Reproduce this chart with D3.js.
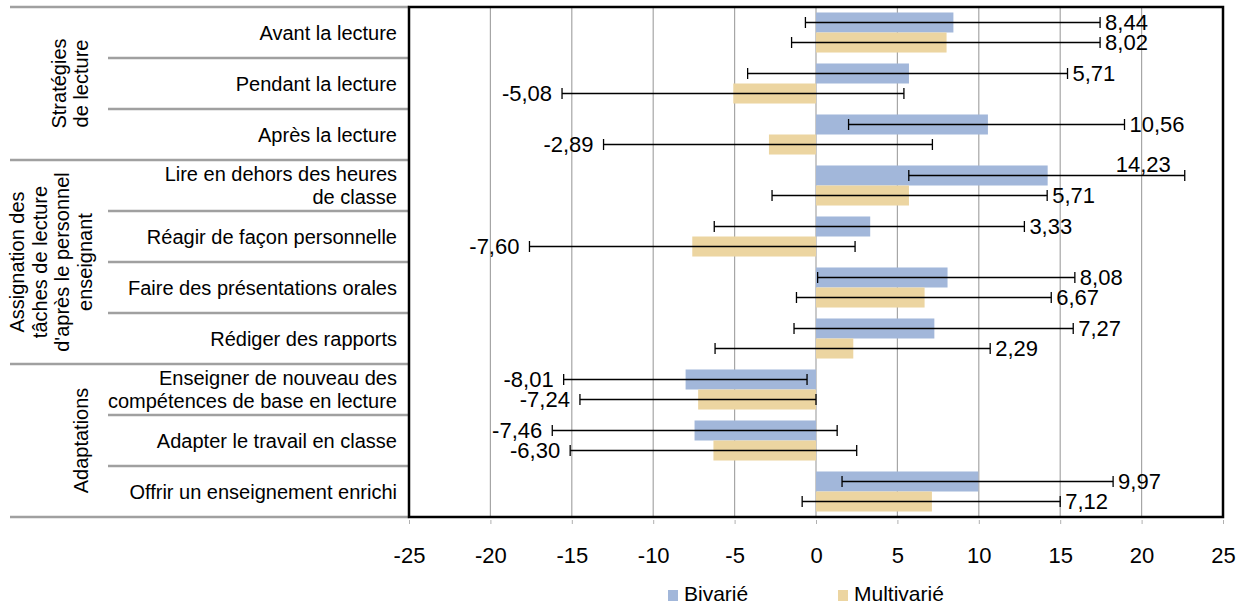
<!DOCTYPE html>
<html>
<head>
<meta charset="utf-8">
<script src="https://cdn.jsdelivr.net/npm/d3@7"></script>
<style>
  body { margin: 0; background: #fff; }
  svg { display: block; font-family: "Liberation Sans", Arial, sans-serif; }
</style>
</head>
<body>
<svg id="chart" width="1244" height="607"></svg>
<script>
// Categories (top to bottom), with line breaks as in the original
const categories = [
  "Avant la lecture",
  "Pendant la lecture",
  "Après la lecture",
  "Lire en dehors des heures\nde classe",
  "Réagir de façon personnelle",
  "Faire des présentations orales",
  "Rédiger des rapports",
  "Enseigner de nouveau des\ncompétences de base en lecture",
  "Adapter le travail en classe",
  "Offrir un enseignement enrichi"
];

// Groups of categories
const groupLabels = [
  ["Stratégies", "de lecture"],
  ["Assignation des", "tâches de lecture", "d'après le personnel", "enseignant"],
  ["Adaptations"]
];
const groupSizes = [3, 4, 3];

// Series values
const seriesNames = ["Bivarié", "Multivarié"];
const bivarie = [8.44, 5.71, 10.56, 14.23, 3.33, 8.08, 7.27, -8.01, -7.46, 9.97];
const multivarie = [8.02, -5.08, -2.89, 5.71, -7.60, 6.67, 2.29, -7.24, -6.30, 7.12];

// Error bar bounds (confidence intervals)
const bivLow = [-0.65, -4.2, 2.0, 5.7, -6.25, 0.1, -1.35, -15.5, -16.2, 1.6];
const bivHigh = [17.45, 15.45, 18.95, 22.65, 12.8, 15.9, 15.8, -0.55, 1.3, 18.25];
const multLow = [-1.5, -15.6, -13.05, -2.7, -17.6, -1.2, -6.2, -14.5, -15.1, -0.85];
const multHigh = [17.45, 5.4, 7.15, 14.2, 2.4, 14.45, 10.7, 0, 2.5, 15.0];

// Axis ticks
const xTickValues = [-25, -20, -15, -10, -5, 0, 5, 10, 15, 20, 25];

const colors = ["#a2b7da", "#ecd5a1"];

// Build rows from the arrays
const rows = categories.map((c, i) => ({
  category: c,
  values: [
    { series: 0, value: bivarie[i], low: bivLow[i], high: bivHigh[i] },
    { series: 1, value: multivarie[i], low: multLow[i], high: multHigh[i] }
  ]
}));

const locale = d3.formatLocale({ decimal: ",", thousands: " ", grouping: [3], currency: ["", " €"], minus: "-" });
const fmtVal = locale.format(".2f");
const fmtTick = locale.format("d");

const svg = d3.select("#chart");

// Layout
const plot = { left: 409, right: 1223, top: 7, bottom: 517 };
const catLabelX = 397;
const groupLineLeft = 10;
const innerLineLeft = 108;
const groupLabelX = [70, 51, 81];

const x = d3.scaleLinear().domain([-25, 25]).range([plot.left, plot.right]);
const y = d3.scaleBand()
  .domain(d3.range(categories.length))
  .range([plot.top, plot.bottom])
  .paddingInner(0.215)
  .paddingOuter(0.1075);
const ySeries = d3.scaleBand().domain([0, 1]).range([0, y.bandwidth()]);
const rowStep = y.step();
const rowTop = i => plot.top + i * rowStep;

// Vertical gridlines
svg.append("g")
  .selectAll("line")
  .data(xTickValues)
  .join("line")
  .attr("x1", d => x(d)).attr("x2", d => x(d))
  .attr("y1", plot.top).attr("y2", plot.bottom)
  .attr("stroke", "#a6a6a6")
  .attr("stroke-width", 1.2);

// Left side row separators
const groupStarts = [0];
groupSizes.forEach((s, i) => groupStarts.push(groupStarts[i] + s));
svg.append("g")
  .selectAll("line")
  .data(d3.range(categories.length + 1))
  .join("line")
  .attr("x1", d => groupStarts.includes(d) ? groupLineLeft : innerLineLeft)
  .attr("x2", plot.left)
  .attr("y1", d => rowTop(d)).attr("y2", d => rowTop(d))
  .attr("stroke", "#a0a0a0")
  .attr("stroke-width", 2.5);

// Bars
const rowG = svg.append("g")
  .selectAll("g")
  .data(rows)
  .join("g")
  .attr("transform", (d, i) => `translate(0, ${y(i)})`);

rowG.selectAll("rect")
  .data(d => d.values)
  .join("rect")
  .attr("x", d => x(Math.min(0, d.value)))
  .attr("width", d => Math.abs(x(d.value) - x(0)))
  .attr("y", d => ySeries(d.series))
  .attr("height", ySeries.bandwidth())
  .attr("fill", d => colors[d.series]);

// Error bars
const err = rowG.selectAll("g.err")
  .data(d => d.values)
  .join("g")
  .attr("class", "err")
  .attr("transform", d => `translate(0, ${ySeries(d.series) + ySeries.bandwidth() / 2})`);

err.append("line")
  .attr("x1", d => x(d.low)).attr("x2", d => x(d.high))
  .attr("y1", 0).attr("y2", 0)
  .attr("stroke", "#000").attr("stroke-width", 1.3);
err.selectAll("line.cap")
  .data(d => [d.low, d.high])
  .join("line")
  .attr("class", "cap")
  .attr("x1", d => x(d)).attr("x2", d => x(d))
  .attr("y1", -5.5).attr("y2", 5.5)
  .attr("stroke", "#000").attr("stroke-width", 1.3);

// Value labels
err.append("text")
  .attr("font-size", 22)
  .attr("dominant-baseline", "central")
  .attr("fill", "#000")
  .text(d => fmtVal(d.value))
  .each(function(d) {
    const t = d3.select(this);
    if (d.value >= 0) {
      t.attr("x", x(d.high) + 5).attr("text-anchor", "start");
      const w = this.getComputedTextLength();
      if (x(d.high) + 5 + w > plot.right - 5) {
        t.attr("x", x(d.high) - 14).attr("y", -11).attr("text-anchor", "end");
      }
    } else {
      t.attr("x", x(d.low) - 10).attr("text-anchor", "end");
    }
  });

// Plot frame
svg.append("rect")
  .attr("x", plot.left).attr("y", plot.top)
  .attr("width", plot.right - plot.left)
  .attr("height", plot.bottom - plot.top)
  .attr("fill", "none")
  .attr("stroke", "#000")
  .attr("stroke-width", 2.5);

// X axis
const xAxis = d3.axisBottom(x)
  .tickValues(xTickValues)
  .tickFormat(fmtTick)
  .tickSize(4)
  .tickPadding(23);
const axisG = svg.append("g")
  .attr("transform", `translate(0, ${plot.bottom + 3})`)
  .call(xAxis);
axisG.select(".domain").remove();
axisG.selectAll(".tick line").attr("stroke", "#b0b0b0");
axisG.selectAll(".tick text")
  .attr("font-size", 22)
  .attr("font-family", "Liberation Sans, Arial, sans-serif")
  .attr("fill", "#000");

// Category labels
const catText = svg.append("g")
  .selectAll("text")
  .data(categories)
  .join("text")
  .attr("text-anchor", "end")
  .attr("font-size", 20)
  .attr("fill", "#000");
catText.each(function(d, i) {
  const lines = d.split("\n");
  const cy = rowTop(i) + rowStep / 2;
  d3.select(this).selectAll("tspan")
    .data(lines)
    .join("tspan")
    .attr("x", catLabelX)
    .attr("y", (l, j) => cy + (j - (lines.length - 1) / 2) * 22.5)
    .attr("dominant-baseline", "central")
    .text(l => l);
});

// Group labels (rotated)
svg.append("g")
  .selectAll("text")
  .data(groupLabels)
  .join("text")
  .attr("transform", (d, i) => {
    const cy = (rowTop(groupStarts[i]) + rowTop(groupStarts[i + 1])) / 2;
    return `translate(${groupLabelX[i]}, ${cy}) rotate(-90)`;
  })
  .attr("text-anchor", "middle")
  .attr("font-size", 20)
  .attr("fill", "#000")
  .each(function(d) {
    d3.select(this).selectAll("tspan")
      .data(d)
      .join("tspan")
      .attr("x", 0)
      .attr("y", (l, j) => (j - (d.length - 1) / 2) * 22.5)
      .attr("dominant-baseline", "central")
      .text(l => l);
  });

// Legend
const legendX = [668, 838];
const legend = svg.append("g")
  .selectAll("g")
  .data(seriesNames)
  .join("g")
  .attr("transform", (d, i) => `translate(${legendX[i]}, 590)`);
legend.append("rect")
  .attr("width", 10).attr("height", 11)
  .attr("fill", (d, i) => colors[i]);
legend.append("text")
  .attr("x", 16).attr("y", 11)
  .attr("font-size", 21)
  .attr("fill", "#000")
  .text(d => d);
</script>
</body>
</html>
